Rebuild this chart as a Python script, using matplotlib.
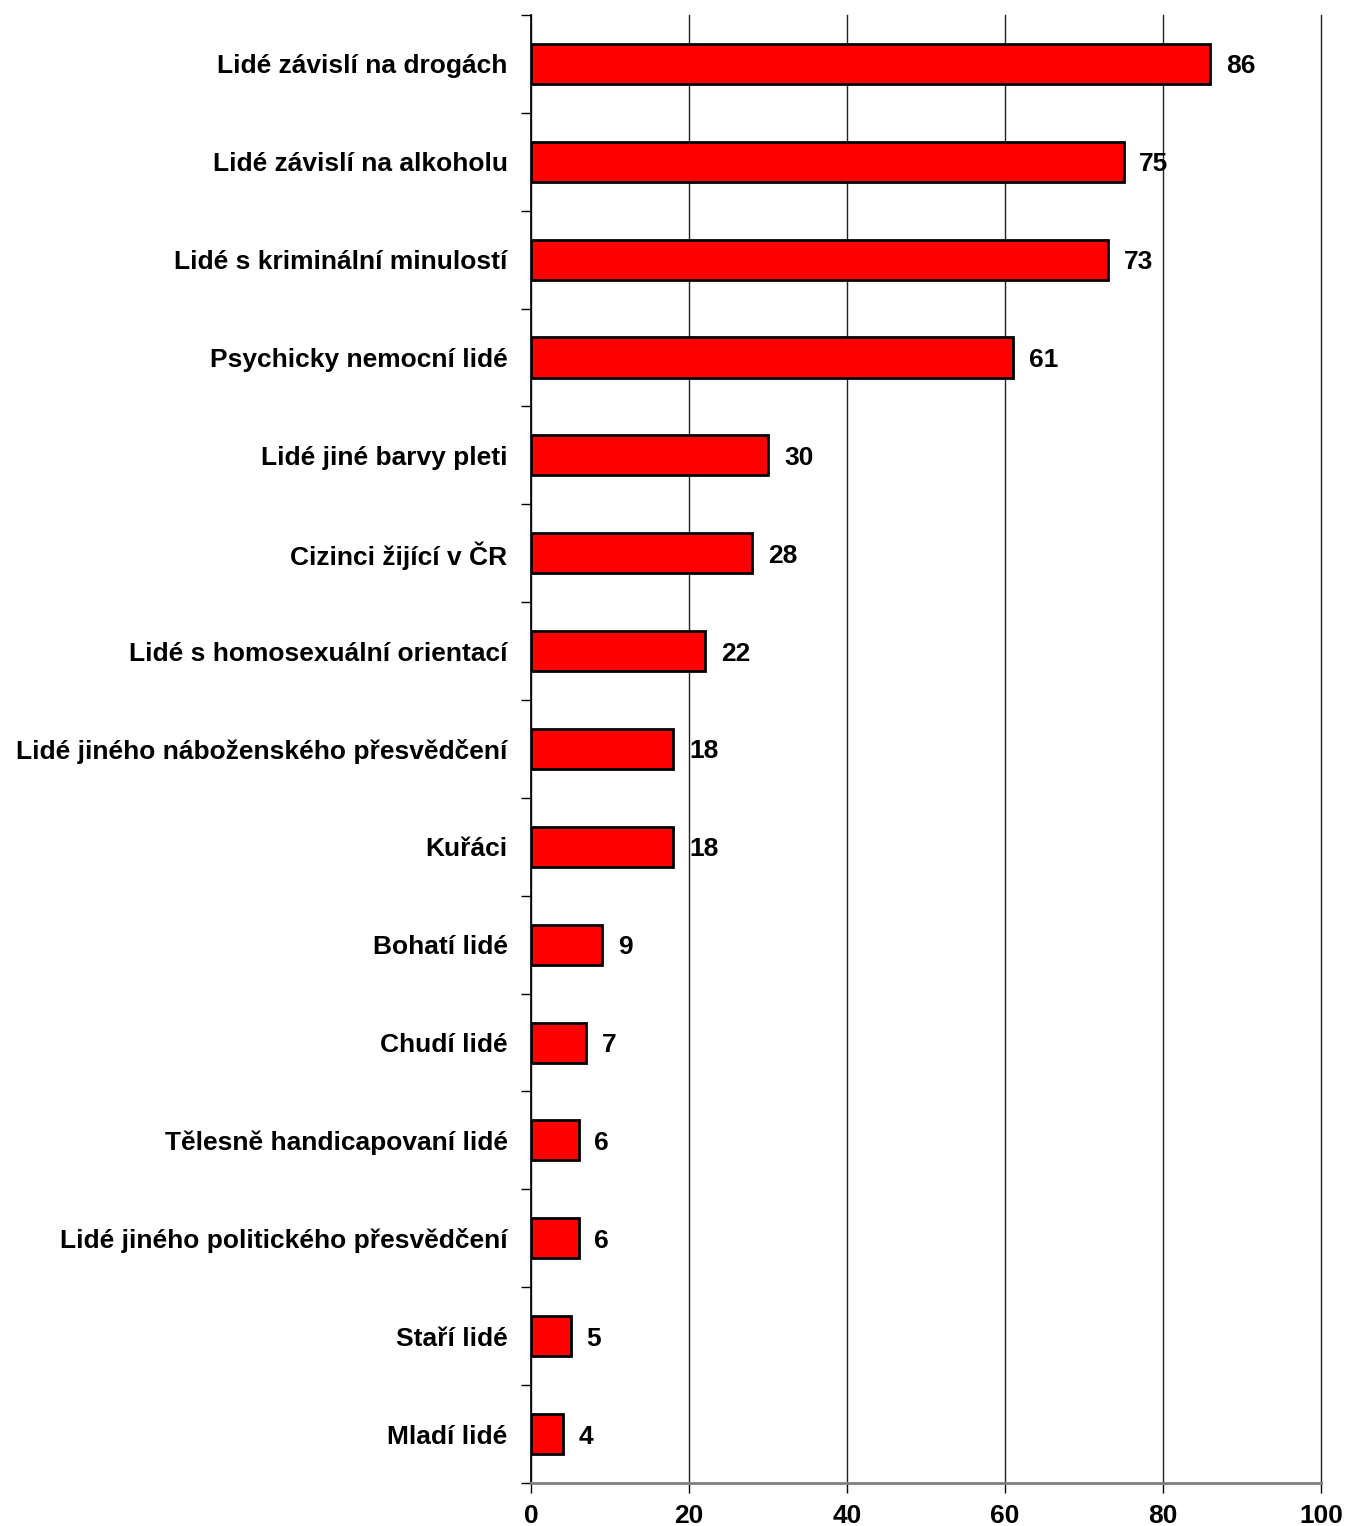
import matplotlib
matplotlib.use('Agg')
import matplotlib.pyplot as plt
import numpy as np

plt.rcParams['font.family'] = ['Liberation Sans', 'DejaVu Sans']

categories = [
    'Lidé závislí na drogách',
    'Lidé závislí na alkoholu',
    'Lidé s kriminální minulostí',
    'Psychicky nemocní lidé',
    'Lidé jiné barvy pleti',
    'Cizinci žijící v ČR',
    'Lidé s homosexuální orientací',
    'Lidé jiného náboženského přesvědčení',
    'Kuřáci',
    'Bohatí lidé',
    'Chudí lidé',
    'Tělesně handicapovaní lidé',
    'Lidé jiného politického přesvědčení',
    'Staří lidé',
    'Mladí lidé',
]
values = [86, 75, 73, 61, 30, 28, 22, 18, 18, 9, 7, 6, 6, 5, 4]
x_ticks = [0, 20, 40, 60, 80, 100]

fig = plt.figure(figsize=(13.48, 15.26), dpi=100)
ax = fig.add_axes([0.394, 0.0282, 0.586, 0.9620])

n = len(categories)
y = np.arange(n)
ax.barh(y, values, height=0.41, color='#ff0000', edgecolor='black', linewidth=2, zorder=3)

for yi, v in zip(y, values):
    ax.text(v + 2.0, yi, str(v), va='center_baseline', ha='left', fontsize=19, fontweight='bold', zorder=4)

ax.set_xlim(0, 100)
ax.set_ylim(n - 0.5, -0.5)

# category labels at bar centres, tick marks at category boundaries
ax.set_yticks(np.arange(-0.5, n, 1.0))
ax.set_yticklabels([])
ax.set_yticks(y, minor=True)
ax.set_yticklabels(categories, minor=True, fontsize=19, fontweight='bold')
ax.tick_params(axis='y', which='major', length=7, width=1, direction='out')
ax.tick_params(axis='y', which='minor', length=0, pad=17)

ax.set_xticks(x_ticks)
ax.set_xticklabels([str(t) for t in x_ticks], fontsize=19, fontweight='bold')
ax.tick_params(axis='x', length=7, width=1, direction='out', pad=8)

ax.grid(axis='x', color='#222222', linewidth=1, zorder=0)
for line in ax.xaxis.get_gridlines():
    line.set_clip_on(False)
ax.spines['top'].set_visible(False)
ax.spines['right'].set_visible(False)
ax.spines['left'].set_linewidth(1.2)
ax.spines['bottom'].set_color('#808080')
ax.spines['bottom'].set_linewidth(2)

fig.savefig('out.png', dpi=100)
